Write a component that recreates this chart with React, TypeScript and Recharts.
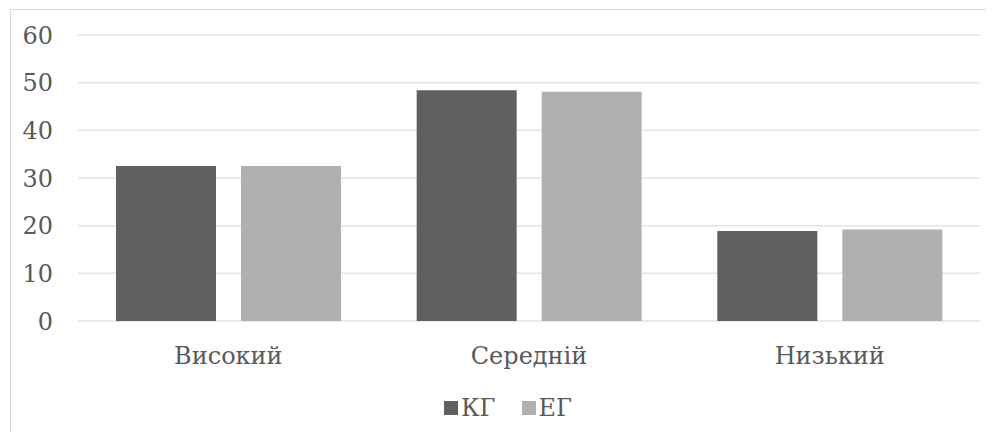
import React from "react";
import { Bar, BarChart, CartesianGrid, Legend, XAxis, YAxis } from "recharts";

const categories = ["Високий", "Середній", "Низький"];
const kgValues = [32.5, 48.4, 18.9];
const egValues = [32.5, 48.1, 19.2];
const yTicks = [0, 10, 20, 30, 40, 50, 60];

const seriesNames = { kg: "КГ", eg: "ЕГ" };
const COLORS = { kg: "#5f5f5f", eg: "#b0b0b0" };
const FONT = "'DejaVu Serif', serif";
const TEXT = "#595959";
const FS = 24;

const data = categories.map((name, i) => ({
  name,
  kg: kgValues[i],
  eg: egValues[i],
}));

function LegendBox() {
  const items = [
    { key: "kg", label: seriesNames.kg, color: COLORS.kg },
    { key: "eg", label: seriesNames.eg, color: COLORS.eg },
  ];
  return (
    <div
      style={{
        height: 30,
        display: "flex",
        justifyContent: "center",
        alignItems: "center",
        paddingLeft: 54,
        fontFamily: FONT,
        fontSize: FS,
        color: TEXT,
      }}
    >
      {items.map((it) => (
        <span key={it.key} style={{ display: "flex", alignItems: "center", marginRight: 26 }}>
          <span style={{ width: 14, height: 14, background: it.color, marginRight: 3 }} />
          {it.label}
        </span>
      ))}
    </div>
  );
}

export default function App() {
  return (
    <div style={{ position: "relative", width: 978, height: 424, fontFamily: FONT }}>
      <div
        style={{
          position: "absolute",
          left: 2,
          top: 1,
          right: 0,
          bottom: 0,
          borderLeft: "1px solid #d9d9d9",
          borderTop: "1px solid #d9d9d9",
        }}
      />
      <div style={{ position: "absolute", left: 0, top: 0 }}>
        <BarChart
          width={978}
          height={424}
          data={data}
          margin={{ top: 27, right: 6, left: 0, bottom: 9 }}
          barSize={100}
          barGap={25}
        >
          <CartesianGrid vertical={false} stroke="#e3e3e3" strokeWidth={1.5} />
          <XAxis
            dataKey="name"
            axisLine={false}
            tickLine={false}
            tickSize={0}
            tickMargin={26}
            height={72}
            tick={{ fill: TEXT, fontSize: FS, fontFamily: FONT }}
          />
          <YAxis
            domain={[0, 60]}
            ticks={yTicks}
            axisLine={false}
            tickLine={false}
            tickSize={0}
            tickMargin={25}
            width={70}
            tick={{ fill: TEXT, fontSize: FS, fontFamily: FONT }}
          />
          <Legend verticalAlign="bottom" height={30} content={() => <LegendBox />} />
          <Bar dataKey="kg" name={seriesNames.kg} fill={COLORS.kg} isAnimationActive={false} />
          <Bar dataKey="eg" name={seriesNames.eg} fill={COLORS.eg} isAnimationActive={false} />
        </BarChart>
      </div>
    </div>
  );
}
